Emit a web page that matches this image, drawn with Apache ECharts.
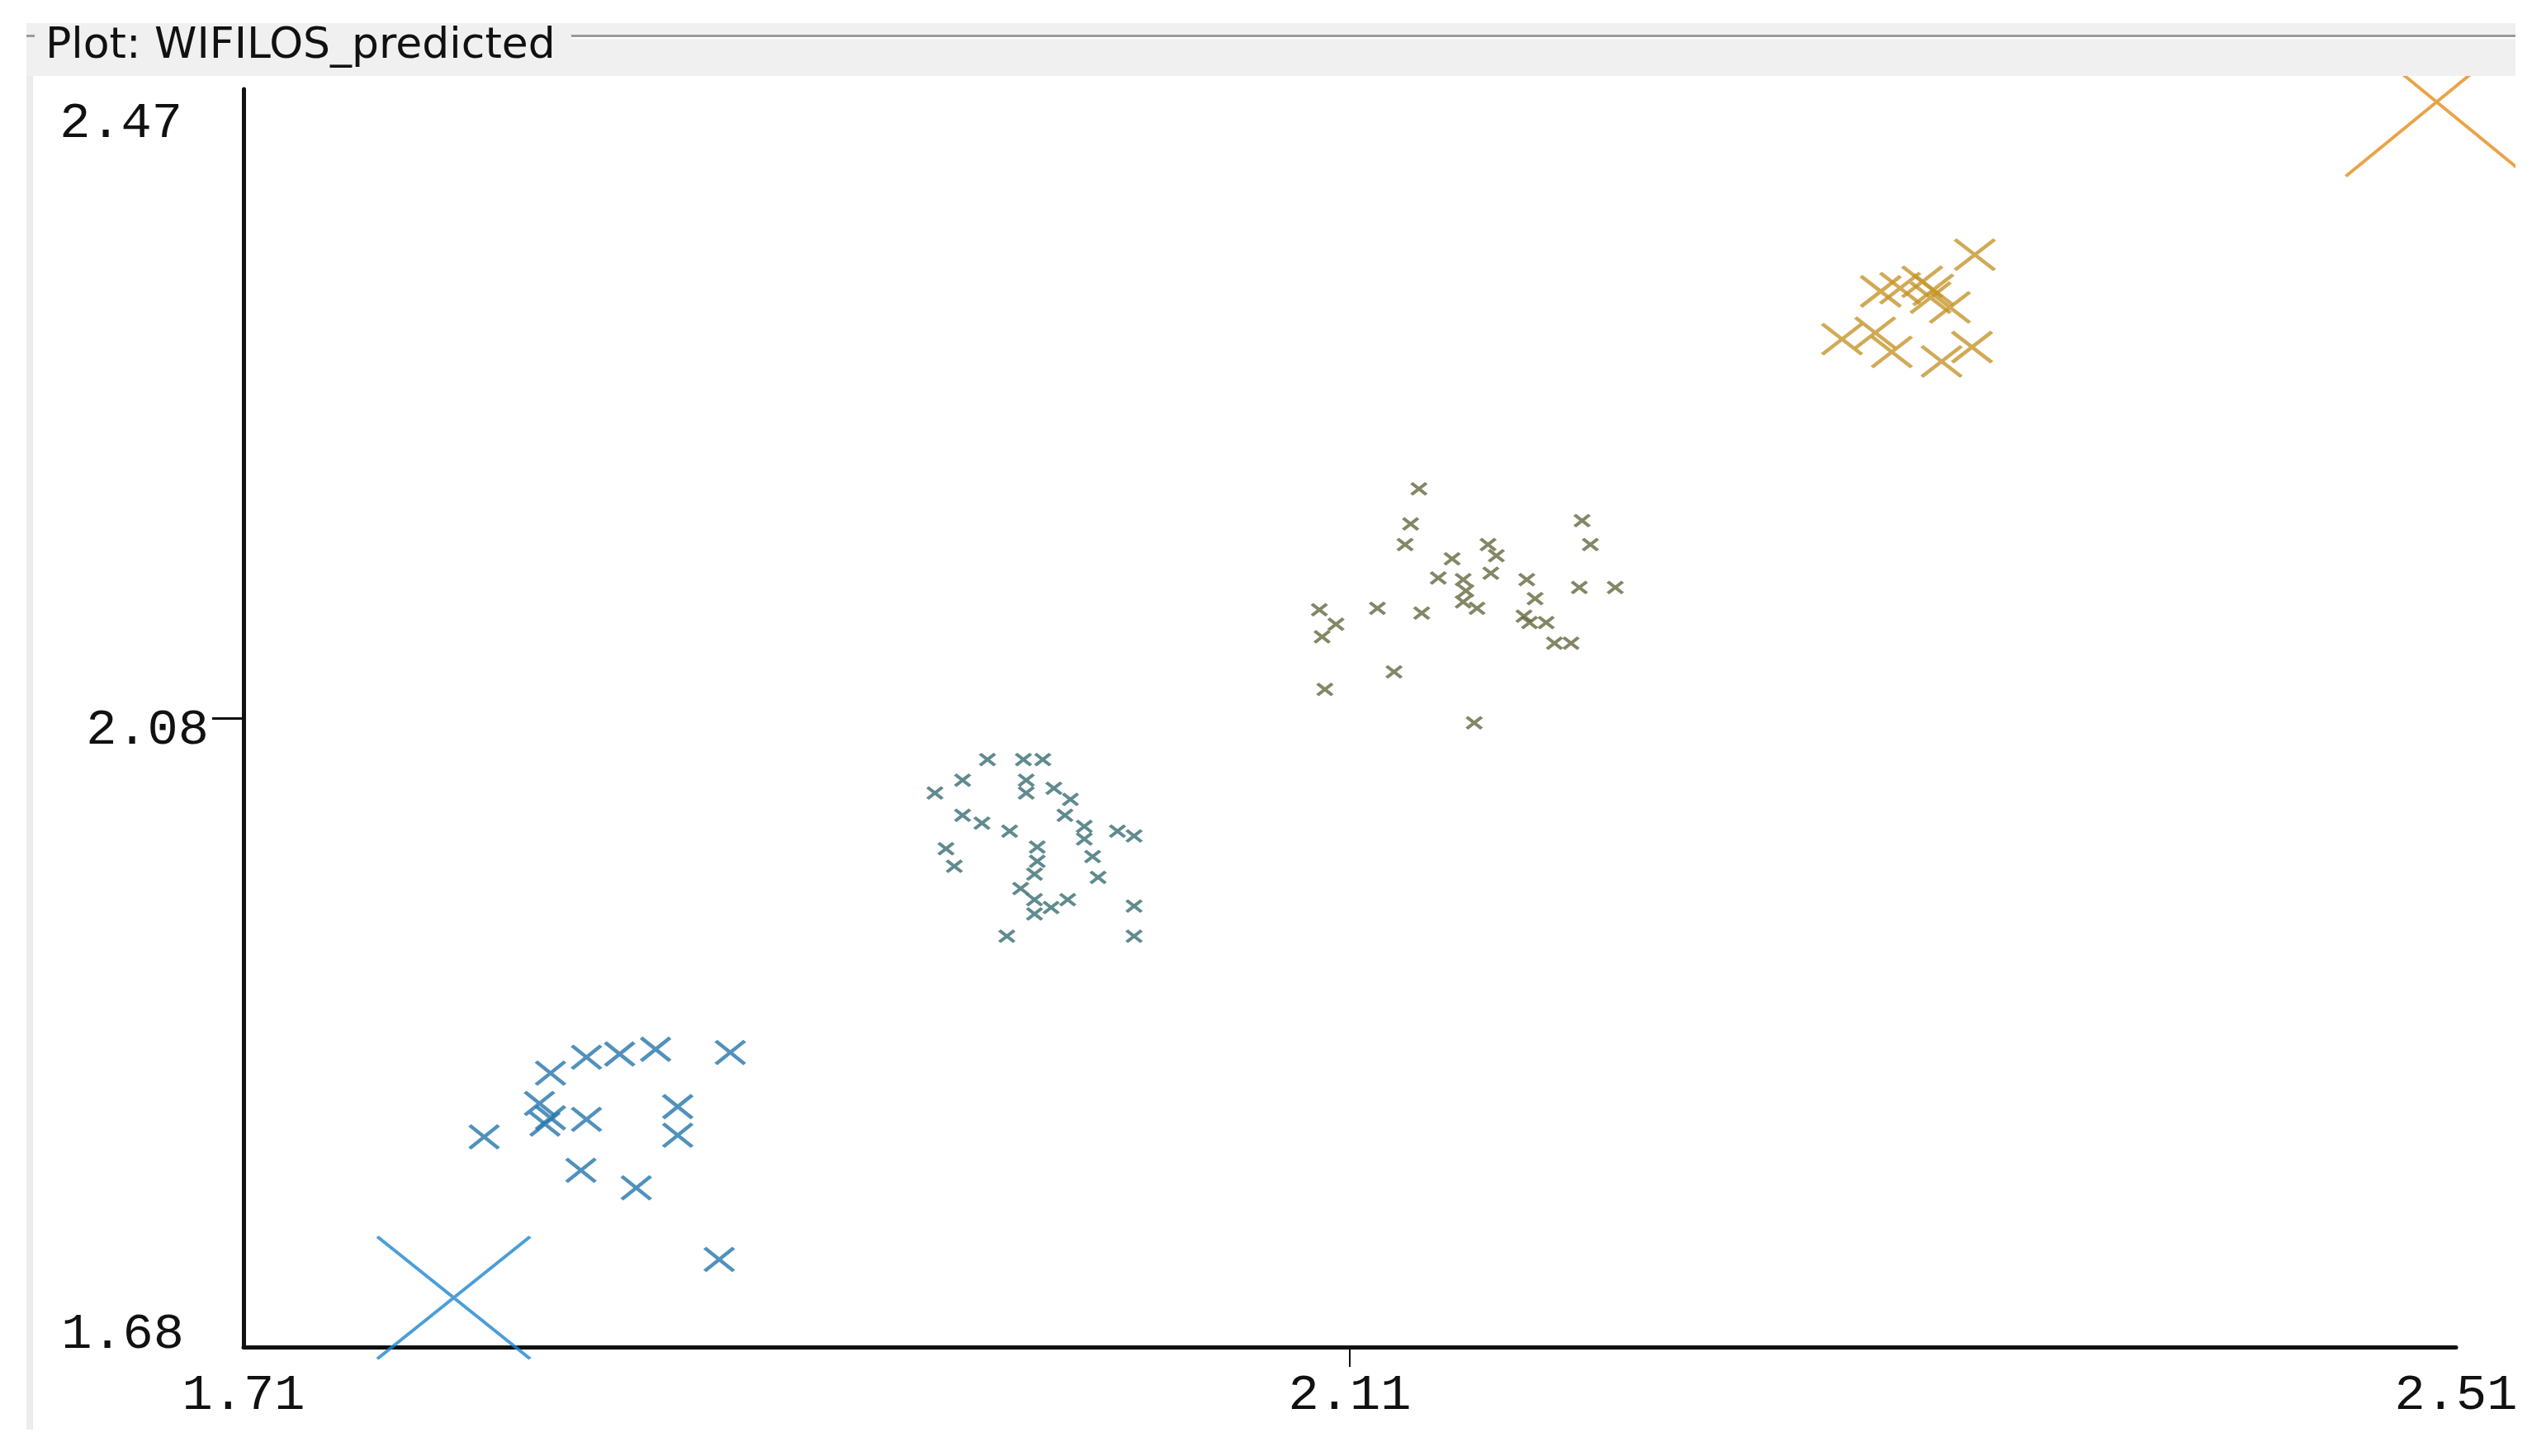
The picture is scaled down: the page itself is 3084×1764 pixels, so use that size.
<!DOCTYPE html>
<html>
<head>
<meta charset="utf-8">
<title>Plot: WIFILOS_predicted</title>
<script src="https://cdn.jsdelivr.net/npm/echarts@6.0.0/dist/echarts.min.js"></script>
<style>
    html, body { margin: 0; padding: 0; background: #ffffff; }
    #chart { width: 3084px; height: 1764px; }
</style>
</head>
<body>
<div id="chart"></div>
<script>
// axis labels as printed on the plot
const xTicks = [1.71, 2.11, 2.51];
const yTicks = [1.68, 2.075, 2.47];
const yTickLabels = ['1.68', '2.08', '2.47'];

// [actual, predicted] pairs, one array per colour band
const lowPoint = [[1.786, 1.711]];
const blueGroup = [
    [1.797, 1.812], [1.821, 1.852], [1.834, 1.862], [1.846, 1.864],
    [1.859, 1.867], [1.886, 1.865], [1.817, 1.833], [1.821, 1.824],
    [1.819, 1.820], [1.834, 1.823], [1.867, 1.831], [1.867, 1.813],
    [1.832, 1.791], [1.852, 1.780], [1.882, 1.735]
];
const tealGroup = [
    [1.979, 2.049], [1.992, 2.049], [1.999, 2.049], [1.970, 2.036],
    [1.960, 2.028], [1.993, 2.036], [1.993, 2.028], [2.003, 2.031],
    [2.009, 2.024], [2.007, 2.014], [1.970, 2.014], [1.977, 2.009],
    [1.987, 2.004], [2.014, 2.007], [2.014, 1.999], [2.026, 2.004],
    [2.032, 2.001], [1.964, 1.993], [1.997, 1.994], [1.997, 1.985],
    [2.017, 1.988], [1.967, 1.982], [2.019, 1.975], [1.996, 1.977],
    [1.991, 1.968], [1.996, 1.961], [2.002, 1.956], [2.008, 1.961],
    [1.996, 1.952], [2.032, 1.957], [1.986, 1.938], [2.032, 1.938]
];
const oliveGroup = [
    [2.135, 2.219], [2.132, 2.197], [2.130, 2.184], [2.194, 2.199],
    [2.197, 2.184], [2.147, 2.175], [2.160, 2.184], [2.163, 2.177],
    [2.161, 2.166], [2.142, 2.163], [2.151, 2.162], [2.152, 2.155],
    [2.151, 2.148], [2.156, 2.144], [2.174, 2.162], [2.193, 2.157],
    [2.206, 2.157], [2.177, 2.150], [2.120, 2.144], [2.136, 2.141],
    [2.099, 2.143], [2.105, 2.134], [2.100, 2.126], [2.173, 2.139],
    [2.175, 2.135], [2.181, 2.135], [2.184, 2.122], [2.190, 2.122],
    [2.126, 2.104], [2.101, 2.093], [2.155, 2.072]
];
const goldGroup = [
    [2.336, 2.366], [2.302, 2.343], [2.309, 2.345], [2.317, 2.349],
    [2.321, 2.344], [2.320, 2.339], [2.327, 2.333], [2.288, 2.313],
    [2.300, 2.317], [2.306, 2.305], [2.324, 2.299], [2.335, 2.308]
];
const highPoint = [[2.503, 2.462]];

const cross = 'path://M0,0L10,10M10,0L0,10';
const monoFont = '"Liberation Mono", "DejaVu Sans Mono", monospace';

function crossSeries(data, color, size, width) {
    return {
        type: 'scatter',
        data: data,
        symbol: cross,
        symbolSize: size,
        clip: false,
        itemStyle: {
            color: 'rgba(0,0,0,0)',
            borderColor: color,
            borderWidth: width
        },
        emphasis: {disabled: true}
    };
}

let chart = echarts.init(document.getElementById('chart'));
chart.setOption({
    animation: false,
    backgroundColor: '#ffffff',
    grid: {
        left: 295,
        top: 108,
        width: 2680,
        height: 1524
    },
    xAxis: {
        type: 'value',
        min: 1.71,
        max: 2.51,
        splitLine: {show: false},
        axisLine: {lineStyle: {color: '#111111', width: 5}},
        axisTick: {
            customValues: [2.11],
            length: 24,
            lineStyle: {color: '#111111', width: 2}
        },
        axisLabel: {
            customValues: xTicks,
            margin: 28,
            fontFamily: monoFont,
            fontSize: 62,
            color: '#111111',
            formatter: function (v) {
                return v.toFixed(2);
            }
        }
    },
    yAxis: {
        type: 'value',
        min: 1.68,
        max: 2.47,
        splitLine: {show: false},
        axisLine: {lineStyle: {color: '#111111', width: 5}},
        axisTick: {
            customValues: [2.075],
            length: 38,
            lineStyle: {color: '#111111', width: 3}
        },
        axisLabel: {
            customValues: yTicks,
            margin: 42,
            color: '#111111',
            formatter: function (v) {
                let i = yTicks.indexOf(v);
                let name = ['bot', 'mid', 'top'][i];
                return '{' + name + '|' + yTickLabels[i] + '}';
            },
            rich: {
                top: {fontFamily: monoFont, fontSize: 62, color: '#111111', padding: [84, 32, 0, 0]},
                mid: {fontFamily: monoFont, fontSize: 62, color: '#111111', padding: [30, 0, 0, 0]},
                bot: {fontFamily: monoFont, fontSize: 62, color: '#111111', padding: [0, 30, 30, 0]}
            }
        }
    },
    graphic: {
        elements: [
            // panel header band and etched title border
            {type: 'rect', z: 100, shape: {x: 32, y: 28, width: 3015, height: 64}, style: {fill: '#f0f0f0'}},
            {type: 'rect', z: 101, shape: {x: 692, y: 42, width: 2355, height: 3}, style: {fill: '#9a9a9a'}},
            {type: 'rect', z: 101, shape: {x: 692, y: 45, width: 2355, height: 2}, style: {fill: '#ffffff'}},
            {type: 'rect', z: 101, shape: {x: 32, y: 42, width: 10, height: 3}, style: {fill: '#9a9a9a'}},
            // left panel edge and the white margin on the right
            {type: 'rect', z: 100, shape: {x: 32, y: 92, width: 8, height: 1640}, style: {fill: '#ececec'}},
            {type: 'rect', z: 100, shape: {x: 3047, y: 0, width: 37, height: 1764}, style: {fill: '#ffffff'}},
            {
                type: 'text', z: 102, left: 55, top: 30,
                style: {
                    text: 'Plot: WIFILOS_predicted',
                    font: '52px "DejaVu Sans", sans-serif',
                    fill: '#111111'
                }
            }
        ]
    },
    series: [
        crossSeries(lowPoint, '#1f86cf', [185, 148], 4),
        crossSeries(blueGroup, '#2676ab', [35, 28], 4.5),
        crossSeries(tealGroup, '#386e72', [18, 14], 4),
        crossSeries(oliveGroup, '#65683e', [18, 14], 4),
        crossSeries(goldGroup, '#c6952a', [48, 37], 4.5),
        crossSeries(highPoint, '#e38d1a', [220, 180], 4)
    ]
});
</script>
</body>
</html>
